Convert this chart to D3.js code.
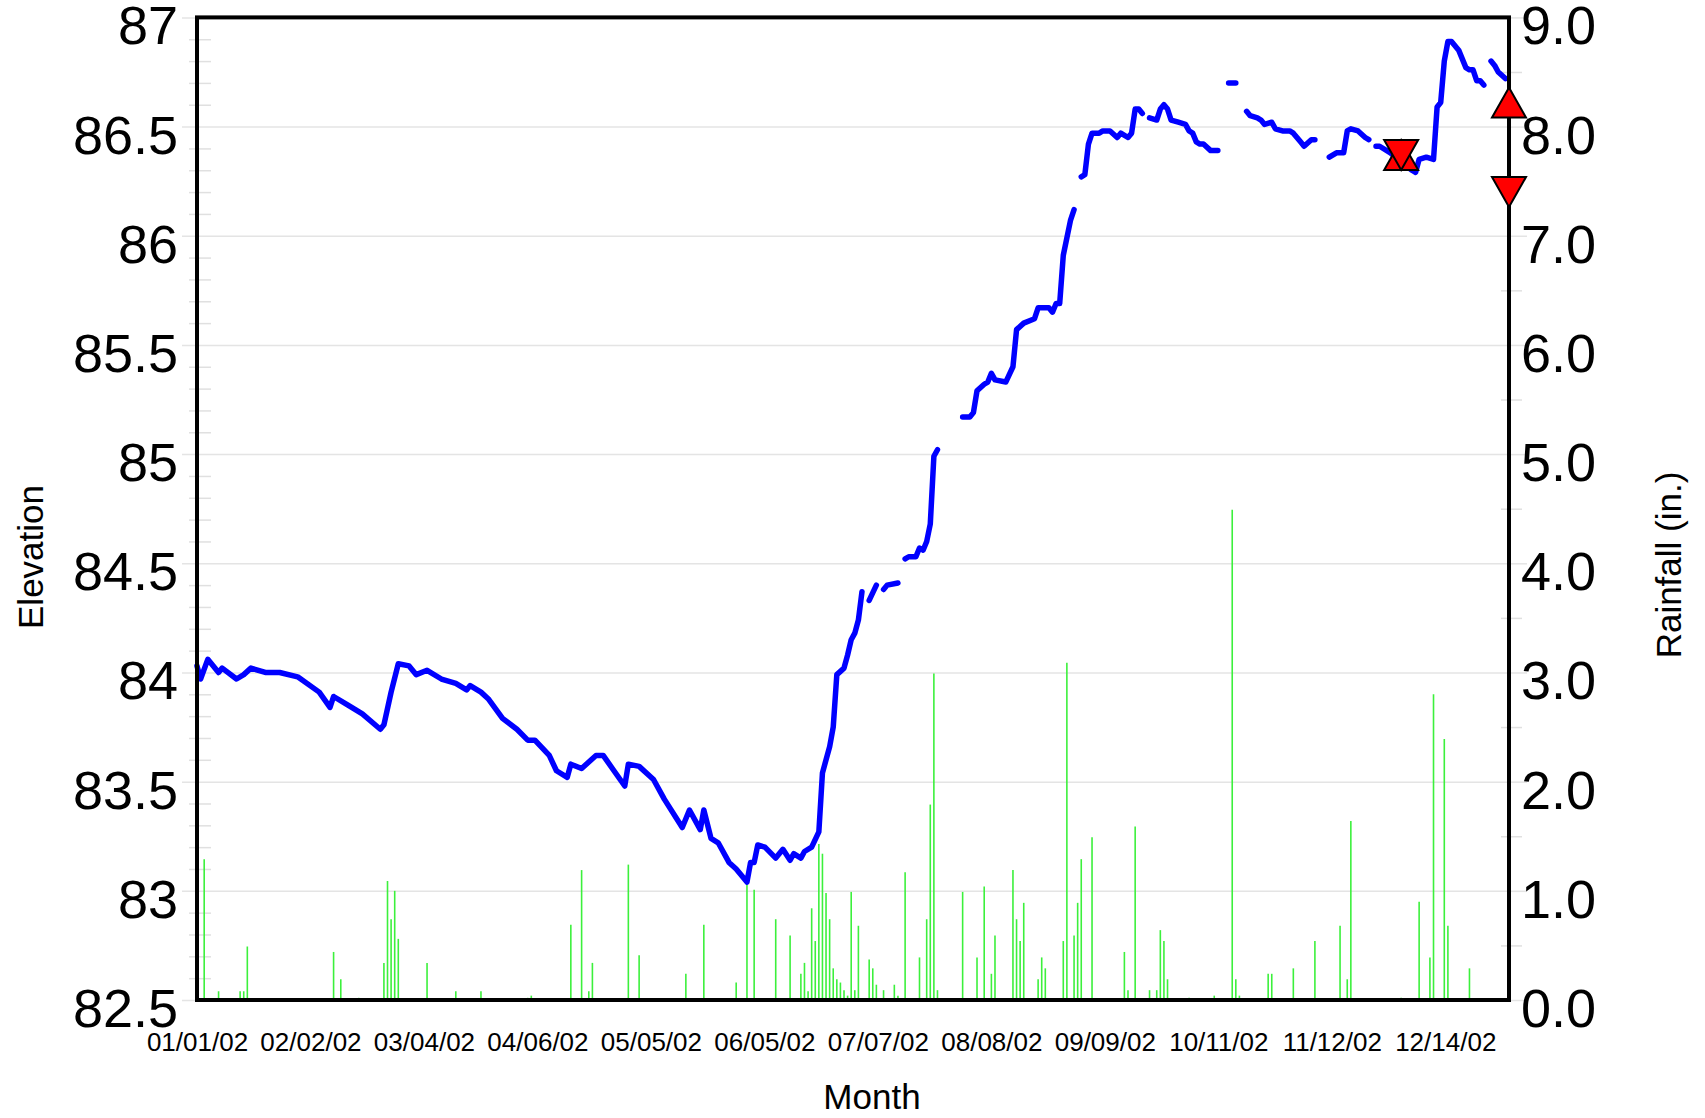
<!DOCTYPE html>
<html>
<head>
<meta charset="utf-8">
<script src="https://cdn.jsdelivr.net/npm/d3@7"></script>
<style>
body { margin: 0; background: #fff; }
text { font-family: "Liberation Sans", Arial, sans-serif; fill: #000; }
</style>
</head>
<body>
<div id="chart"></div>
<script>
// days are counted from 01/01/02
const startDate = new Date(2002, 0, 1);
const endDate = new Date(2003, 0, 1);

// the month ticks are evenly spaced, each one is labelled with a date
const xTickDays = [0, 31.57, 63.14, 94.71, 126.28, 157.85, 189.42, 220.99, 252.56, 284.13, 315.7, 347.27];
const xTickLabels = ['01/01/02', '02/02/02', '03/04/02', '04/06/02', '05/05/02', '06/05/02',
    '07/07/02', '08/08/02', '09/09/02', '10/11/02', '11/12/02', '12/14/02'];
const elevTicks = [82.5, 83, 83.5, 84, 84.5, 85, 85.5, 86, 86.5, 87];
const rainTicks = [0, 1, 2, 3, 4, 5, 6, 7, 8, 9];

// elevation, null = no reading (gap in the line)
const elevDays = [0, 1, 3, 6, 7, 11, 13, 15, 19, 23, 28, 34, 37, 38, 42, 46, 51, 52, 54, 56, 59, 61, 64, 68, 72, 75, 76, 79, 81,
    85, 89, 92, 94, 98, 100, 103, 104, 107, 109, 111, 113, 116, 119, 120, 123, 127, 130, 135, 137, 140, 141, 143, 145,
    148, 150, 153, 154, 155, 156, 158, 161, 163, 165, 166, 168, 169, 171, 173, 174, 176, 177, 178, 180, 181, 182, 183,
    184, 185, 186, 187, 189, 190, 191, 192, 195, 196, 197, 198, 200, 201, 202, 203, 204, 205, 206, 209, 213, 215, 216,
    217, 219, 220, 221, 222, 225, 227, 228, 230, 233, 234, 237, 238, 239, 240, 241, 243, 244, 245, 246, 247, 248, 249,
    251, 252, 254, 256, 257, 259, 260, 261, 262, 263, 264, 265, 267, 268, 269, 270, 271, 273, 275, 276, 277, 278, 279,
    280, 282, 284, 285, 287, 289, 290, 292, 293, 295, 296, 297, 299, 300, 302, 304, 305, 307, 308, 310, 311, 313, 315,
    317, 319, 320, 321, 323, 325, 326, 327, 328, 329, 332, 335, 338, 339, 340, 342, 344, 345, 346, 347, 348, 349, 351,
    353, 354, 355, 356, 357, 358, 359, 360, 361, 362, 364];
const elevValues = [84.03, 83.97, 84.06, 84.00, 84.02, 83.97, 83.99, 84.02, 84.00, 84.00, 83.98, 83.91, 83.84, 83.89, 83.85,
    83.81, 83.74, 83.76, 83.91, 84.04, 84.03, 83.99, 84.01, 83.97, 83.95, 83.92, 83.94, 83.91, 83.88,
    83.79, 83.74, 83.69, 83.69, 83.62, 83.55, 83.52, 83.58, 83.56, 83.59, 83.62, 83.62, 83.55, 83.48, 83.58, 83.57, 83.51,
    83.42, 83.29, 83.37, 83.28, 83.37, 83.24, 83.22,
    83.13, 83.10, 83.04, 83.13, 83.13, 83.21, 83.20, 83.15, 83.19, 83.14, 83.17, 83.15, 83.18, 83.20, 83.27, 83.54, 83.66,
    83.75, 83.99, 84.02, 84.08, 84.15, 84.18,
    84.24, 84.37, null, 84.33, 84.40, null, 84.38, 84.40, 84.41, null, 84.52, 84.53, 84.53, 84.57, 84.56, 84.60, 84.68,
    84.99, 85.02, null, 85.17, 85.17, 85.19,
    85.29, 85.32, 85.33, 85.37, 85.34, 85.33, 85.40, 85.57, 85.60, 85.62, 85.67, 85.67, 85.65, 85.69, 85.69, 85.91, 86.07,
    86.12, null, 86.27, 86.28, 86.42, 86.47,
    86.47, 86.48, 86.48, 86.45, 86.47, 86.45, 86.47, 86.58, 86.58, 86.56, null, 86.54, 86.53, 86.58, 86.60, 86.58, 86.53,
    86.52, 86.51, 86.48, 86.47, 86.43, 86.42,
    86.42, 86.39, 86.39, null, 86.70, 86.70, null, 86.57, 86.55, 86.54, 86.53, 86.51, 86.52, 86.49, 86.48, 86.48, 86.47,
    86.43, 86.41, 86.44, 86.44, null, 86.36,
    86.38, 86.38, 86.48, 86.49, 86.48, 86.45, 86.44, null, 86.41, 86.41, 86.38, 86.34, 86.30, 86.29, 86.35, 86.36, 86.35,
    86.59, 86.61, 86.80, 86.89, 86.89, 86.85,
    86.77, 86.76, 86.76, 86.71, 86.71, 86.69, null, 86.80, 86.78, 86.75, 86.72];

// daily rainfall (in.)
const rainDays = [2, 6, 12, 13, 14, 38, 40, 45, 52, 53, 54, 55, 56, 64, 72, 79, 92, 93, 104, 107, 109, 110, 120, 123, 136,
    141, 150, 153, 155, 161, 165, 168, 169, 170, 171, 172, 173, 174, 175, 176, 177, 178, 179, 180, 181, 182, 183, 184,
    187, 188, 189, 191, 194, 195, 197, 201, 203, 204, 205, 206, 213, 217, 219, 221, 222, 227, 228, 229, 230, 234, 235,
    236, 241, 242, 244, 245, 246, 249, 258, 259, 261, 265, 267, 268, 269, 270, 276, 283, 288, 289, 290, 298, 299, 305,
    311, 318, 320, 321, 335, 340, 343, 344, 347, 348, 354];
const rainValues = [1.29, 0.08, 0.08, 0.08, 0.49, 0.44, 0.19, 0.02, 0.34, 1.09, 0.74, 1.00, 0.56, 0.34, 0.08, 0.08, 0.02,
    0.04, 0.69, 1.19, 0.08, 0.34, 1.24, 0.41, 0.24,
    0.69, 0.16, 1.10, 1.01, 0.74, 0.59, 0.24, 0.34, 0.08, 0.84, 0.54, 1.43, 1.34, 0.98, 0.74, 0.29, 0.19, 0.16, 0.09, 0.04,
    0.99, 0.09, 0.68,
    0.37, 0.29, 0.14, 0.09, 0.14, 0.04, 1.17, 0.39, 0.74, 1.79, 2.99, 0.09, 0.99, 0.39, 1.04, 0.24, 0.59, 1.19, 0.74, 0.54,
    0.89, 0.19, 0.39,
    0.29, 0.54, 3.09, 0.59, 0.89, 1.29, 1.49, 0.44, 0.09, 1.59, 0.09, 0.09, 0.64, 0.54, 0.19, 0.02, 0.04, 4.49, 0.19, 0.04,
    0.24, 0.24, 0.29,
    0.54, 0.68, 0.19, 1.64, 0.02, 0.90, 0.39, 2.80, 2.39, 0.68, 0.29];

// red triangle markers
const markerDays = [335, 335, 365, 365];
const markerValues = [86.37, 86.37, 86.61, 86.20];
const markerShapes = ['up', 'down', 'up', 'down'];

const margin = { top: 17.4, right: 196, bottom: 118, left: 197 };
const width = 1705 - margin.left - margin.right;
const height = 1118 - margin.top - margin.bottom;

const root = d3.select('#chart')
    .append('svg')
    .attr('width', 1705)
    .attr('height', 1118);

const svg = root.append('g')
    .attr('transform', `translate(${margin.left},${margin.top})`);

const x = d3.scaleTime()
    .domain([startDate, endDate])
    .range([0, width]);

const yElev = d3.scaleLinear()
    .domain([82.5, 87])
    .range([height, 0]);

const yRain = d3.scaleLinear()
    .domain([0, 9])
    .range([height, 0]);

const dayDate = d => new Date(startDate.getTime() + d * 864e5);

const elevData = elevDays.map((d, i) => ({ date: d3.timeDay.offset(startDate, d), value: elevValues[i] }));
const rainData = rainDays.map((d, i) => ({ date: d3.timeDay.offset(startDate, d), value: rainValues[i] }));
const markerData = markerDays.map((d, i) => ({ date: d3.timeDay.offset(startDate, d), value: markerValues[i], shape: markerShapes[i] }));
const xTicks = xTickDays.map(dayDate);

// grid lines
svg.append('g')
    .attr('class', 'grid')
    .call(d3.axisLeft(yElev).tickValues(elevTicks).tickSize(-width).tickFormat(''))
    .call(g => g.select('.domain').remove())
    .call(g => g.selectAll('line').attr('x1', -15).attr('stroke', '#e4e4e4').attr('stroke-width', 1.5));

// minor ticks
const minorElev = d3.range(1, 45).filter(i => i % 5 !== 0).map(i => 82.5 + i * 0.1);
svg.append('g')
    .call(d3.axisLeft(yElev).tickValues(minorElev).tickSize(0).tickFormat(''))
    .call(g => g.select('.domain').remove())
    .call(g => g.selectAll('line').attr('x1', -8).attr('x2', 14).attr('stroke', '#e0e0e0').attr('stroke-width', 1.5));

const minorRain = d3.range(0, 9).map(i => i + 0.5);
svg.append('g')
    .attr('transform', `translate(${width},0)`)
    .call(d3.axisRight(yRain).tickValues(minorRain).tickSize(0).tickFormat(''))
    .call(g => g.select('.domain').remove())
    .call(g => g.selectAll('line').attr('x1', -8).attr('x2', 13).attr('stroke', '#e0e0e0').attr('stroke-width', 1.5));

svg.append('g')
    .attr('transform', `translate(${width},0)`)
    .call(d3.axisRight(yRain).tickValues(rainTicks).tickSize(0).tickFormat(''))
    .call(g => g.select('.domain').remove())
    .call(g => g.selectAll('line').attr('x1', 0).attr('x2', 18).attr('stroke', '#e4e4e4').attr('stroke-width', 1.5));

// rainfall bars
svg.selectAll('.rain')
    .data(rainData)
    .enter()
    .append('line')
    .attr('class', 'rain')
    .attr('x1', d => x(d.date))
    .attr('x2', d => x(d.date))
    .attr('y1', yRain(0))
    .attr('y2', d => yRain(d.value))
    .attr('stroke', '#3cf03c')
    .attr('stroke-width', 1.6);

// elevation line
const elevLine = d3.line()
    .defined(d => d.value != null)
    .x(d => x(d.date))
    .y(d => yElev(d.value));

svg.append('path')
    .datum(elevData)
    .attr('fill', 'none')
    .attr('stroke', '#0000ff')
    .attr('stroke-width', 5.5)
    .attr('stroke-linecap', 'round')
    .attr('stroke-linejoin', 'round')
    .attr('d', elevLine);

// frame
svg.append('rect')
    .attr('width', width)
    .attr('height', height)
    .attr('fill', 'none')
    .attr('stroke', '#000')
    .attr('stroke-width', 4);

// tick labels
svg.append('g')
    .call(d3.axisLeft(yElev).tickValues(elevTicks).tickSize(0).tickPadding(19).tickFormat(d3.format('')))
    .call(g => g.select('.domain').remove())
    .call(g => g.selectAll('text').attr('dy', '0.49em').style('font-size', '54px')
        .style('font-family', '"Liberation Sans", Arial, sans-serif'));

svg.append('g')
    .attr('transform', `translate(${width},0)`)
    .call(d3.axisRight(yRain).tickValues(rainTicks).tickSize(0).tickPadding(12).tickFormat(d3.format('.1f')))
    .call(g => g.select('.domain').remove())
    .call(g => g.selectAll('text').attr('dy', '0.49em').style('font-size', '54px')
        .style('font-family', '"Liberation Sans", Arial, sans-serif'));

svg.append('g')
    .attr('transform', `translate(0,${height})`)
    .call(d3.axisBottom(x).tickValues(xTicks).tickSize(0).tickPadding(33)
        .tickFormat((d, i) => xTickLabels[i]))
    .call(g => g.select('.domain').remove())
    .call(g => g.selectAll('text').style('font-size', '26px')
        .style('font-family', '"Liberation Sans", Arial, sans-serif'));

// markers
const triPath = (shape, cx, cy) => shape === 'up'
    ? `M${cx - 17},${cy + 15}L${cx},${cy - 15}L${cx + 17},${cy + 15}Z`
    : `M${cx - 17},${cy - 15}L${cx},${cy + 15}L${cx + 17},${cy - 15}Z`;

svg.selectAll('.marker')
    .data(markerData)
    .enter()
    .append('path')
    .attr('class', 'marker')
    .attr('d', d => triPath(d.shape, x(d.date), yElev(d.value)))
    .attr('fill', '#ff0000')
    .attr('stroke', '#000')
    .attr('stroke-width', 2)
    .attr('stroke-linejoin', 'miter');

// axis titles
root.append('text')
    .attr('transform', 'translate(43,557) rotate(-90)')
    .attr('text-anchor', 'middle')
    .style('font-size', '35px')
    .text('Elevation');

root.append('text')
    .attr('transform', 'translate(1681,565) rotate(-90)')
    .attr('text-anchor', 'middle')
    .style('font-size', '35px')
    .text('Rainfall (in.)');

root.append('text')
    .attr('x', 872)
    .attr('y', 1109)
    .attr('text-anchor', 'middle')
    .style('font-size', '35px')
    .text('Month');
</script>
</body>
</html>
